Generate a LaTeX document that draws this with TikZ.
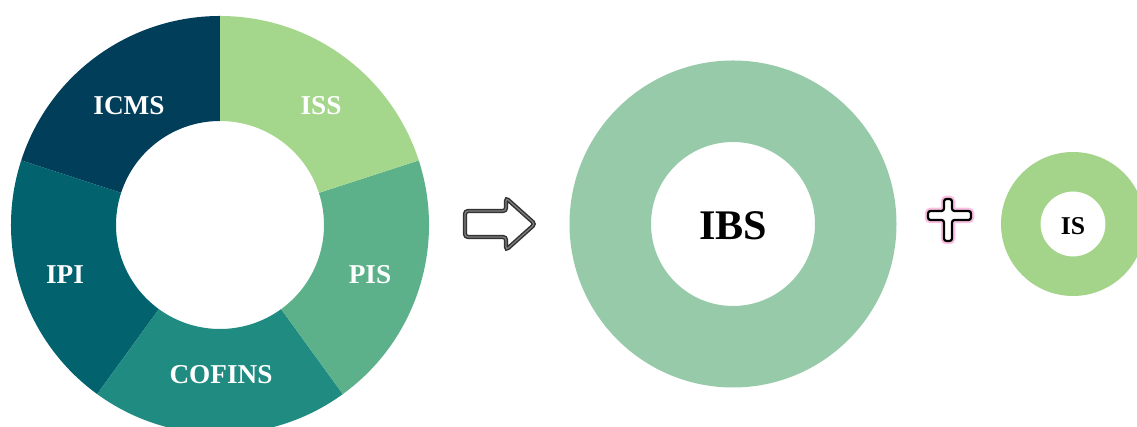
\documentclass[tikz,border=0pt]{standalone}
\usepackage{fontspec}
\setmainfont{Liberation Serif}
\definecolor{icms}{HTML}{003E5A}
\definecolor{ipi}{HTML}{02636F}
\definecolor{cofins}{HTML}{208B80}
\definecolor{pis}{HTML}{5DB18A}
\definecolor{iss}{HTML}{A4D78B}
\definecolor{ibs}{HTML}{96CAA9}
\definecolor{isring}{HTML}{A3D48A}
\begin{document}
\begin{tikzpicture}[x=0.2mm, y=0.2mm, tax/.style={text=white, font=\bfseries\fontsize{15.5}{18}\selectfont}]
				\useasboundingbox (0,0) rectangle (1137,427);
				\clip (0,0) rectangle (1137,427);

				% five taxes
				\begin{scope}[shift={(220,202)}]
					\fill[icms] (90:209) arc (90:162:209) -- (162:104) arc (162:90:104) -- cycle;
					\fill[ipi] (162:209) arc (162:234:209) -- (234:104) arc (234:162:104) -- cycle;
					\fill[cofins] (234:209) arc (234:306:209) -- (306:104) arc (306:234:104) -- cycle;
					\fill[pis] (306:209) arc (306:378:209) -- (378:104) arc (378:306:104) -- cycle;
					\fill[iss] (18:209) arc (18:90:209) -- (90:104) arc (90:18:104) -- cycle;
				\end{scope}

				\node[tax] (icms) at (129,321) {ICMS};
				\node[tax] (iss) at (321,321) {ISS};
				\node[tax] (pis) at (370,152) {PIS};
				\node[tax] (cofins) at (221,52) {COFINS};
				\node[tax] (ipi) at (65,152) {IPI};

				% arrow
				\draw[rounded corners=0.6mm, line width=0.3mm, draw=black!80, double=black!50, double distance=0.25mm, fill=white]
					(465,190) -- (506,190) -- (506,177) -- (535,203) -- (506,229) -- (506,216) -- (465,216) -- cycle;

				% new taxes
				\fill[ibs, even odd rule] (733,203) circle [radius=163.5] (733,203) circle [radius=82];
				\node (ibs) at (733,201) [font=\bfseries\fontsize{24}{28}\selectfont] {IBS};

				\draw[rounded corners=0.5mm, line width=1.3mm, draw=magenta!25]
					(944,228) -- (952,228) -- (952,216) -- (971,216) -- (971,207) -- (952,207) -- (952,186) -- (944,186) -- (944,207) -- (928,207) -- (928,216) -- (944,216) -- cycle;
				\draw[rounded corners=0.5mm, line width=0.45mm, fill=white]
					(944,228) -- (952,228) -- (952,216) -- (971,216) -- (971,207) -- (952,207) -- (952,186) -- (944,186) -- (944,207) -- (928,207) -- (928,216) -- (944,216) -- cycle;

				\fill[isring, even odd rule] (1073,203) circle [radius=72] (1073,203) circle [radius=32.5];
				\node (is) at (1073,201) [font=\bfseries\fontsize{14.6}{17}\selectfont] {IS};
			\end{tikzpicture}
\end{document}
